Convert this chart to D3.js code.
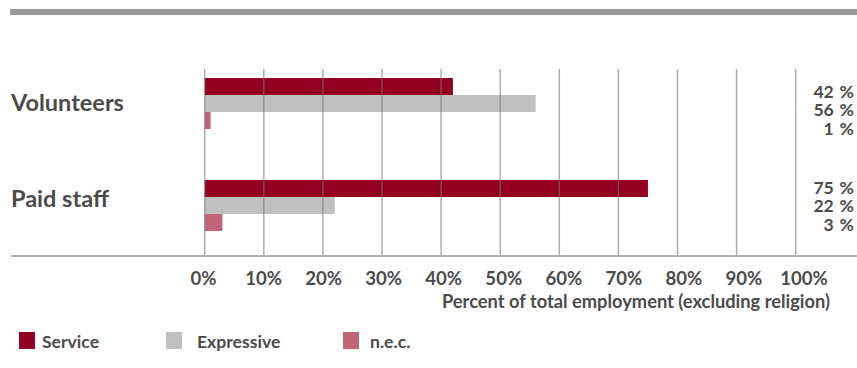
<!DOCTYPE html>
<html>
<head>
<meta charset="utf-8">
<script src="https://cdn.jsdelivr.net/npm/d3@7"></script>
<style>
  html, body { margin: 0; padding: 0; background: #fff; }
  svg { display: block; }
  text { font-family: Lato, "Open Sans", sans-serif; font-weight: 700; fill: #4b4b4b; }
</style>
</head>
<body>
<svg id="chart" width="857" height="368"></svg>
<script>
// Share of total employment (excluding religion) by field of activity
const categories = ["Volunteers", "Paid staff"];
const series = ["Service", "Expressive", "n.e.c."];
const serviceValues = [42, 75];
const expressiveValues = [56, 22];
const necValues = [1, 3];
const tickValues = [0, 10, 20, 30, 40, 50, 60, 70, 80, 90, 100];
const tickLabels = ["0%", "10%", "20%", "30%", "40%", "50%", "60%", "70%", "80%", "90%", "100%"];
const axisTitle = "Percent of total employment (excluding religion)";

const seriesValues = [serviceValues, expressiveValues, necValues];
const colors = d3.scaleOrdinal(series, ["#930020", "#c0c0c0", "#c06478"]);

const svg = d3.select("#chart");
const W = 857;

// scales
const x = d3.scaleLinear().domain([0, 100]).range([204.7, 795.7]);
const xLabel = d3.scaleLinear().domain([0, 100]).range([203.5, 804]);
const y = d3.scaleBand().domain(categories).range([78, 231]).paddingInner(0.5).paddingOuter(0);
const ySeries = d3.scaleBand().domain(series).range([0, y.bandwidth()]);
const yText = d3.scalePoint().domain(categories).range([102, 198]);

const gridTop = 69, baseY = 256;

// top rule
svg.append("rect").attr("x", 10).attr("y", 9).attr("width", W - 10).attr("height", 6).attr("fill", "#9a9a9a");

// bars
const rows = [];
categories.forEach((c, i) => series.forEach((s, j) => rows.push({ cat: c, s, v: seriesValues[j][i] })));
svg.append("g").selectAll("rect").data(rows).join("rect")
  .attr("x", x(0))
  .attr("y", d => y(d.cat) + ySeries(d.s))
  .attr("width", d => x(d.v) - x(0))
  .attr("height", ySeries.bandwidth())
  .attr("fill", d => colors(d.s));

// vertical gridlines over the bars
svg.append("g").selectAll("line").data(tickValues).join("line")
  .attr("x1", d => x(d)).attr("x2", d => x(d))
  .attr("y1", gridTop).attr("y2", baseY)
  .attr("stroke", "#777").attr("stroke-opacity", 0.6).attr("stroke-width", 1.5);

// baseline
svg.append("line").attr("x1", 11).attr("x2", W).attr("y1", baseY).attr("y2", baseY)
  .attr("stroke", "#b3b3b3").attr("stroke-width", 2);

// tick labels
svg.append("g").selectAll("text").data(tickValues).join("text")
  .attr("x", d => xLabel(d)).attr("y", 285)
  .attr("text-anchor", "middle").style("font-size", "18.6px")
  .text((d, i) => tickLabels[i]);

// axis title
svg.append("text").attr("x", 830).attr("y", 308).attr("text-anchor", "end")
  .style("font-size", "18.3px").text(axisTitle);

// category labels
svg.append("g").selectAll("text").data(categories).join("text")
  .attr("x", 11).attr("y", d => yText(d) + 8.8)
  .style("font-size", "23.5px").text(d => d);

// value labels
const vl = svg.append("g");
categories.forEach((c, i) => {
  series.forEach((s, j) => {
    vl.append("text")
      .attr("x", 854).attr("y", yText(c) - 4.5 + j * 18.6)
      .attr("text-anchor", "end").style("font-size", "17.6px").style("word-spacing", "1.5px")
      .text(seriesValues[j][i] + " %");
  });
});

// legend
const legendX = [19, 166, 343];
const legendTextDx = [23, 31, 27];
const lg = svg.append("g").selectAll("g").data(series).join("g")
  .attr("transform", (d, i) => `translate(${legendX[i]},332)`);
lg.append("rect").attr("width", 16).attr("height", 17).attr("fill", d => colors(d));
lg.append("text").attr("x", (d, i) => legendTextDx[i]).attr("y", 16.3)
  .style("font-size", "17.6px").text(d => d);
</script>
</body>
</html>
